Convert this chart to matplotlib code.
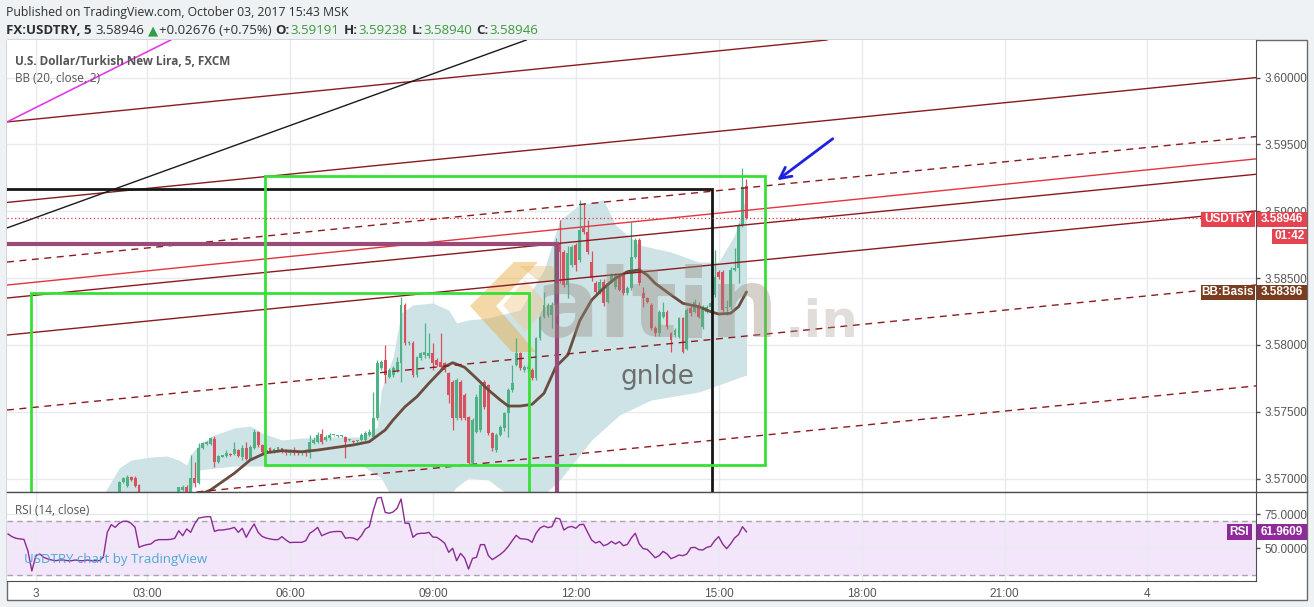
import numpy as np
import matplotlib.pyplot as plt
from matplotlib import transforms
from matplotlib.lines import Line2D
from matplotlib.patches import Rectangle, Polygon

W, H, DPI = 1314, 607, 100

# time axis: index of each 5-minute bar, labelled ticks
tick_bars = [8, 36, 72, 108, 144, 180, 216, 252, 288]
tick_labels = ['3', '03:00', '06:00', '09:00', '12:00', '15:00', '18:00', '21:00', '4']
price_ticks = [3.570, 3.575, 3.580, 3.585, 3.590, 3.595, 3.600]
rsi_ticks = [50, 75]

# FX:USDTRY 5-minute candles, bars 29 .. 187
first_bar = 29
opens = [
    3.56870, 3.56977, 3.56945, 3.57014, 3.57002, 3.56950, 3.56850, 3.56790,
    3.56770, 3.56800, 3.56780, 3.56810, 3.56830, 3.56850, 3.56860, 3.56895,
    3.56915, 3.56940, 3.56890, 3.57002, 3.56965, 3.57227, 3.57257, 3.57257,
    3.57294, 3.57127, 3.57164, 3.57169, 3.57180, 3.57184, 3.57214, 3.57164,
    3.57227, 3.57150, 3.57227, 3.57351, 3.57252, 3.57201, 3.57227, 3.57195,
    3.57210, 3.57227, 3.57214, 3.57189, 3.57214, 3.57201, 3.57189, 3.57214,
    3.57189, 3.57264, 3.57276, 3.57334, 3.57289, 3.57302, 3.57326, 3.57319,
    3.57319, 3.57314, 3.57289, 3.57281, 3.57281, 3.57289, 3.57289, 3.57326,
    3.57314, 3.57451, 3.57825, 3.57887, 3.57762, 3.57775, 3.57813, 3.57863,
    3.58299, 3.58012, 3.58012, 3.57775, 3.57900, 3.57925, 3.57920, 3.57938,
    3.57887, 3.57875, 3.57863, 3.57788, 3.57725, 3.57451, 3.57725, 3.57626,
    3.57460, 3.57115, 3.57351, 3.57364, 3.57725, 3.57700, 3.57339, 3.57214,
    3.57326, 3.57376, 3.57488, 3.57663, 3.57850, 3.57938, 3.57813, 3.57820,
    3.57813, 3.57750, 3.58049, 3.58211, 3.58224, 3.58224, 3.58299, 3.58760,
    3.58697, 3.58449, 3.58600, 3.58748, 3.58636, 3.58873, 3.58847, 3.58623,
    3.58461, 3.58399, 3.58473, 3.58323, 3.58473, 3.58436, 3.58510, 3.58523,
    3.58386, 3.58424, 3.58660, 3.58785, 3.58386, 3.58349, 3.58299, 3.58124,
    3.58087, 3.58212, 3.58249, 3.58087, 3.58075, 3.58062, 3.58199, 3.57972,
    3.58274, 3.58249, 3.58287, 3.58137, 3.58249, 3.58287, 3.58374, 3.58548,
    3.58548, 3.58274, 3.58287, 3.58561, 3.58573, 3.58897, 3.59191]
highs = [
    3.56980, 3.57014, 3.57027, 3.57020, 3.57020, 3.56960, 3.56870, 3.56830,
    3.56810, 3.56840, 3.56820, 3.56850, 3.56870, 3.56880, 3.56890, 3.56940,
    3.56950, 3.56950, 3.57177, 3.57127, 3.57264, 3.57274, 3.57280, 3.57309,
    3.57319, 3.57180, 3.57180, 3.57214, 3.57190, 3.57276, 3.57220, 3.57252,
    3.57276, 3.57250, 3.57369, 3.57360, 3.57260, 3.57220, 3.57240, 3.57230,
    3.57240, 3.57230, 3.57220, 3.57220, 3.57240, 3.57210, 3.57210, 3.57220,
    3.57326, 3.57310, 3.57351, 3.57370, 3.57330, 3.57340, 3.57330, 3.57325,
    3.57325, 3.57320, 3.57300, 3.57290, 3.57290, 3.57340, 3.57360, 3.57370,
    3.57650, 3.57887, 3.57887, 3.57999, 3.57830, 3.57840, 3.57912, 3.58361,
    3.58310, 3.58030, 3.58030, 3.57920, 3.57950, 3.58162, 3.58087, 3.58012,
    3.57900, 3.58087, 3.57870, 3.57800, 3.57740, 3.57750, 3.57740, 3.57640,
    3.57470, 3.57450, 3.57630, 3.57710, 3.57740, 3.57710, 3.57350, 3.57340,
    3.57400, 3.57500, 3.57680, 3.57850, 3.58049, 3.57950, 3.57850, 3.57860,
    3.57830, 3.58060, 3.58220, 3.58398, 3.58310, 3.58320, 3.58800, 3.58935,
    3.58710, 3.58740, 3.58750, 3.58760, 3.59085, 3.59060, 3.58935, 3.58700,
    3.58480, 3.58490, 3.58490, 3.58480, 3.58540, 3.58540, 3.58530, 3.58540,
    3.58440, 3.58922, 3.58800, 3.58800, 3.58436, 3.58360, 3.58310, 3.58140,
    3.58260, 3.58323, 3.58260, 3.58100, 3.58130, 3.58210, 3.58210, 3.58280,
    3.58290, 3.58340, 3.58323, 3.58300, 3.58300, 3.58330, 3.58710, 3.58560,
    3.58560, 3.58336, 3.58580, 3.58723, 3.58910, 3.59322, 3.59238]
lows = [
    3.56850, 3.56970, 3.56940, 3.56980, 3.56940, 3.56800, 3.56760, 3.56740,
    3.56730, 3.56760, 3.56740, 3.56780, 3.56800, 3.56810, 3.56830, 3.56880,
    3.56910, 3.56870, 3.56880, 3.56940, 3.56960, 3.57220, 3.57250, 3.57250,
    3.57085, 3.57120, 3.57160, 3.57160, 3.57170, 3.57180, 3.57160, 3.57139,
    3.57140, 3.57140, 3.57220, 3.57240, 3.57190, 3.57190, 3.57190, 3.57190,
    3.57200, 3.57190, 3.57180, 3.57180, 3.57180, 3.57180, 3.57180, 3.57170,
    3.57152, 3.57260, 3.57270, 3.57260, 3.57280, 3.57290, 3.57320, 3.57315,
    3.57315, 3.57152, 3.57280, 3.57270, 3.57275, 3.57280, 3.57280, 3.57320,
    3.57310, 3.57440, 3.57810, 3.57713, 3.57750, 3.57760, 3.57800, 3.57725,
    3.58000, 3.58000, 3.57760, 3.57760, 3.57890, 3.57900, 3.57900, 3.57813,
    3.57840, 3.57813, 3.57800, 3.57563, 3.57364, 3.57440, 3.57440, 3.57440,
    3.57100, 3.57100, 3.57340, 3.57350, 3.57520, 3.57330, 3.57210, 3.57200,
    3.57320, 3.57360, 3.57314, 3.57650, 3.57840, 3.57810, 3.57800, 3.57800,
    3.57738, 3.57740, 3.58040, 3.58200, 3.58210, 3.58124, 3.58280, 3.58461,
    3.58430, 3.58350, 3.58580, 3.58550, 3.58620, 3.58830, 3.58680, 3.58480,
    3.58380, 3.58380, 3.58290, 3.58310, 3.58460, 3.58420, 3.58400, 3.58370,
    3.58370, 3.58410, 3.58650, 3.58450, 3.58287, 3.58310, 3.58110, 3.58070,
    3.58070, 3.58200, 3.58120, 3.57950, 3.58060, 3.58050, 3.57940, 3.57960,
    3.58220, 3.58240, 3.58200, 3.58120, 3.58240, 3.58270, 3.58360, 3.58490,
    3.58250, 3.58224, 3.58270, 3.58550, 3.58461, 3.58880, 3.58940]
closes = [
    3.56977, 3.57007, 3.57014, 3.56990, 3.56945, 3.56850, 3.56790, 3.56770,
    3.56800, 3.56780, 3.56810, 3.56830, 3.56850, 3.56860, 3.56880, 3.56935,
    3.56940, 3.56890, 3.57002, 3.56965, 3.57227, 3.57264, 3.57276, 3.57302,
    3.57127, 3.57169, 3.57175, 3.57194, 3.57175, 3.57219, 3.57169, 3.57227,
    3.57145, 3.57239, 3.57351, 3.57252, 3.57201, 3.57214, 3.57201, 3.57220,
    3.57234, 3.57201, 3.57189, 3.57214, 3.57189, 3.57189, 3.57201, 3.57189,
    3.57276, 3.57289, 3.57326, 3.57272, 3.57314, 3.57326, 3.57326, 3.57319,
    3.57319, 3.57276, 3.57289, 3.57276, 3.57281, 3.57326, 3.57344, 3.57351,
    3.57451, 3.57863, 3.57875, 3.57775, 3.57813, 3.57825, 3.57875, 3.58299,
    3.58012, 3.58024, 3.57775, 3.57912, 3.57938, 3.57950, 3.57938, 3.57863,
    3.57850, 3.57837, 3.57813, 3.57626, 3.57451, 3.57738, 3.57451, 3.57451,
    3.57115, 3.57439, 3.57613, 3.57700, 3.57538, 3.57339, 3.57227, 3.57326,
    3.57388, 3.57488, 3.57663, 3.57713, 3.57938, 3.57825, 3.57837, 3.57837,
    3.57750, 3.58049, 3.58211, 3.58299, 3.58299, 3.58299, 3.58760, 3.58697,
    3.58449, 3.58685, 3.58735, 3.58598, 3.58860, 3.58847, 3.58697, 3.58499,
    3.58399, 3.58473, 3.58311, 3.58461, 3.58523, 3.58523, 3.58411, 3.58386,
    3.58424, 3.58660, 3.58785, 3.58461, 3.58349, 3.58323, 3.58124, 3.58087,
    3.58249, 3.58249, 3.58137, 3.58037, 3.58112, 3.58199, 3.57950, 3.58261,
    3.58237, 3.58323, 3.58212, 3.58287, 3.58287, 3.58311, 3.58510, 3.58510,
    3.58261, 3.58287, 3.58561, 3.58573, 3.58897, 3.59184, 3.58946]

# Bollinger bands (20, close, 2)
basis_bars = [46, 52, 58, 62, 66, 70, 75, 79, 83, 88, 92, 96, 98, 101, 104, 107,
              111, 113, 116, 119, 122, 125, 127, 130, 133, 136, 139, 142, 145,
              148, 151, 154, 157, 160, 162, 164, 168, 171, 175, 178, 180, 183,
              185, 187]
basis_vals = [3.56840, 3.56915, 3.57040, 3.57139, 3.57194, 3.57209, 3.57201,
              3.57214, 3.57231, 3.57252, 3.57276, 3.57364, 3.57439, 3.57538,
              3.57613, 3.57713, 3.57837, 3.57867, 3.57833, 3.57750, 3.57663,
              3.57588, 3.57543, 3.57543, 3.57556, 3.57638, 3.57837, 3.57925,
              3.58181, 3.58336, 3.58424, 3.58499, 3.58548, 3.58561, 3.58523,
              3.58461, 3.58374, 3.58311, 3.58286, 3.58249, 3.58231, 3.58237,
              3.58286, 3.58396]
upper_bars = [25, 29, 32, 37, 41, 44, 46, 47, 49, 53, 58, 62, 65, 70, 75, 83,
              90, 94, 95, 98, 100, 103, 108, 112, 114, 117, 122, 130, 136, 140,
              145, 151, 154, 160, 168, 175, 180, 184, 187]
upper_vals = [3.56878, 3.57080, 3.57139, 3.57162, 3.57169, 3.57139, 3.57102,
              3.57177, 3.57252, 3.57326, 3.57379, 3.57394, 3.57341, 3.57289,
              3.57304, 3.57311, 3.57311, 3.57386, 3.57663, 3.57910, 3.58239,
              3.58299, 3.58314, 3.58261, 3.58164, 3.58187, 3.58202, 3.58261,
              3.58561, 3.58935, 3.59047, 3.59085, 3.58897, 3.58748, 3.58695,
              3.58620, 3.58620, 3.58822, 3.59122]
lower_bars = [25, 44, 47, 49, 58, 65, 75, 90, 95, 98, 110, 114, 117, 122, 127,
              135, 140, 148, 155, 163, 175, 187]
lower_vals = [3.56500, 3.56600, 3.56900, 3.57065, 3.57094, 3.57094, 3.57094,
              3.57102, 3.57005, 3.56840, 3.56800, 3.56937, 3.57005, 3.56990,
              3.56878, 3.56855, 3.56990, 3.57289, 3.57476, 3.57588, 3.57648,
              3.57775]

# RSI (14, close), bars 1 .. 187
rsi_vals = [
    60.4, 58.4, 57.2, 56.7, 56.4, 48.0, 33.0, 44.3, 45.6, 43.1,
    41.9, 41.1, 40.6, 41.1, 41.1, 40.6, 40.6, 41.1, 40.6, 40.6,
    41.1, 40.6, 40.6, 40.6, 43.1, 61.6, 67.3, 65.3, 68.3, 69.8,
    69.8, 68.3, 65.3, 50.5, 51.7, 52.5, 53.0, 55.4, 56.2, 56.2,
    56.2, 56.4, 57.2, 62.8, 59.1, 64.1, 61.6, 67.8, 72.2, 72.7,
    73.2, 73.2, 62.3, 63.3, 63.3, 63.8, 64.3, 65.3, 61.6, 64.6,
    57.9, 63.3, 67.8, 61.6, 58.6, 57.4, 56.7, 56.2, 56.2, 58.4,
    55.9, 54.0, 54.2, 54.2, 54.2, 55.4, 60.9, 62.8, 65.3, 59.1,
    60.4, 61.6, 62.1, 62.3, 62.1, 57.2, 57.7, 57.4, 55.9, 59.1,
    64.1, 65.8, 77.7, 87.0, 87.5, 76.4, 75.7, 76.7, 79.4, 86.3,
    68.3, 68.3, 57.9, 60.4, 60.9, 60.9, 61.6, 58.1, 57.9, 55.9,
    53.5, 46.8, 49.8, 40.6, 46.0, 42.6, 34.4, 42.3, 43.1, 52.5,
    52.5, 44.3, 41.4, 43.3, 45.3, 47.8, 51.2, 55.4, 59.4, 56.9,
    56.7, 56.2, 54.2, 60.9, 64.8, 66.3, 65.1, 65.8, 72.2, 71.5,
    63.3, 65.3, 66.0, 64.6, 67.3, 67.5, 61.6, 55.9, 53.7, 54.9,
    51.7, 52.7, 54.9, 53.0, 54.7, 51.7, 52.7, 57.4, 60.9, 53.0,
    49.5, 49.0, 46.0, 42.8, 44.3, 47.5, 45.6, 42.1, 43.3, 44.8,
    44.3, 45.6, 50.2, 50.5, 48.8, 48.5, 50.5, 51.2, 55.4, 58.4,
    53.0, 49.5, 53.0, 57.4, 59.9, 65.8, 61.9609]

# drawings on the chart (anchor bar, price)
chan_bars = (0.74, 315.1)
chan_left = [3.59668, 3.59066, 3.58620, 3.58448, 3.58351, 3.58074, 3.57513, 3.56758]
chan_right = [3.60601, 3.59999, 3.59558, 3.59391, 3.59276, 3.59002, 3.58448, 3.57693]
black_trend = [(0.74, 3.58875), (129.5, 3.60259)]
pink_trend = [(0.74, 3.59668), (40.5, 3.60259)]
black_box = (-20, 3.5600, 178.3, 3.59167)     # left bar, low, right bar, high
purple_box = (-20, 3.5600, 139.3, 3.58755)
green_box_a = (6.8, 3.5600, 132.2, 3.58389)
green_box_b = (65.7, 3.57102, 191.7, 3.59264)
arrow_tail = (209.3, 3.59555)
arrow_head = (194.2, 3.59219)
last_close = 3.58946
basis_last = 3.58396
rsi_last = 61.9609

# ---------------------------------------------------------------
UP, DOWN = '#4fb287', '#d8515e'
DARKRED, RED = '#8b1a1f', '#e3343f'
AXC = '#4e4e4e'
TXT = '#555555'
HEAD_FONT = ['Open Sans', 'DejaVu Sans']
TICK_FONT = ['Liberation Sans', 'DejaVu Sans']

X0, X1 = 0.74, 315.35
Y0, Y1 = 3.56900, 3.60281
R0, R1 = 25.56, 91.48

fig = plt.figure(figsize=(W / DPI, H / DPI), dpi=DPI)
fig.patch.set_facecolor('#eff2f5')
px = transforms.Affine2D().scale(1 / W, -1 / H).translate(0, 1) + fig.transFigure


def fx(x):
    return x / W


def fy(y):
    return 1 - y / H


fig.add_artist(Rectangle((fx(7), fy(600)), fx(1307) - fx(7), fy(40) - fy(600),
                         transform=fig.transFigure, facecolor='white',
                         edgecolor='#6a6a6a', lw=1, zorder=-1))

ax = fig.add_axes([fx(7), fy(492), fx(1256) - fx(7), fy(40) - fy(492)])
rax = fig.add_axes([fx(7), fy(581), fx(1256) - fx(7), fy(492) - fy(581)])

for a in (ax, rax):
    a.set_xlim(X0, X1)
    a.set_facecolor('white')
    a.spines['left'].set_visible(False)
    a.spines['top'].set_visible(False)
    a.spines['right'].set_color(AXC)
    a.spines['bottom'].set_color(AXC)
    a.set_xticks(tick_bars)
    a.grid(True, color='#e7eaee', lw=1, zorder=0)
    a.set_axisbelow(True)
    a.yaxis.tick_right()
    a.tick_params(axis='y', length=3, width=1, color=AXC, pad=3,
                  labelsize=8.5, labelcolor=TXT)

ax.set_ylim(Y0, Y1)
ax.set_yticks(price_ticks)
ax.set_yticklabels([f'{p:.5f}' for p in price_ticks], family=TICK_FONT)
ax.tick_params(axis='x', length=0, labelbottom=False)

rax.set_ylim(R0, R1)
rax.set_yticks(rsi_ticks)
rax.set_yticklabels([f'{v:.4f}' for v in rsi_ticks], family=TICK_FONT)
rax.set_xticklabels(tick_labels, family=TICK_FONT)
rax.tick_params(axis='x', length=0, pad=5, labelsize=8.5, labelcolor=TXT)

# Bollinger fill and basis
fill_x = np.arange(25, 188)
ax.fill_between(fill_x, np.interp(fill_x, lower_bars, lower_vals),
                np.interp(fill_x, upper_bars, upper_vals),
                color='#cde3e6', lw=0, zorder=1)
ax.plot(basis_bars, basis_vals, color='#6b4d3f', lw=2, zorder=4,
        solid_capstyle='round')

# watermark logo (decoration)
ax.add_patch(Polygon([(514, 262), (538, 262), (496, 306), (536, 352), (512, 352), (470, 306)],
                     closed=True, transform=px, facecolor='#e9a93c', alpha=0.45,
                     lw=0, zorder=2))
ax.add_patch(Polygon([(525, 280), (548, 305), (525, 332), (503, 305)],
                     closed=True, transform=px, facecolor='#f0c889', alpha=0.45,
                     lw=0, zorder=2))
ax.add_patch(Polygon([(520, 266), (552, 266), (562, 282), (540, 282)],
                     closed=True, transform=px, facecolor='#e8b86a', alpha=0.4,
                     lw=0, zorder=2))

# candles
bars = np.arange(first_bar, first_bar + len(opens))
o, h, l, c = (np.array(v) for v in (opens, highs, lows, closes))
col = np.where(c >= o, UP, DOWN)
ax.vlines(bars, l, h, colors=col, lw=0.9, zorder=3)
ax.bar(bars, np.maximum(np.abs(c - o), 0.00008), bottom=np.minimum(o, c),
       width=0.72, color=col, lw=0, zorder=3)

ax.text(535, 337, 'altin', transform=px, fontsize=69, fontweight='bold',
        family='DejaVu Sans', color='#948878', alpha=0.38, zorder=6)
ax.text(785, 337, '.in', transform=px, fontsize=37, fontweight='bold',
        family='DejaVu Sans', color='#a39a8f', alpha=0.33, zorder=6)
ax.text(657, 384, 'gnlde', transform=px, fontsize=19, ha='center',
        family='DejaVu Sans', color='#6e6e6e', zorder=6)

# channel and trend lines
chan_style = [(DARKRED, '-'), (DARKRED, '-'), (DARKRED, (0, (5, 4))), (RED, '-'),
              (DARKRED, '-'), (DARKRED, '-'), (DARKRED, (0, (5, 4))), (DARKRED, (0, (5, 4)))]
for p0, p1, (colr, ls) in zip(chan_left, chan_right, chan_style):
    ax.axline((chan_bars[0], p0), (chan_bars[1], p1), color=colr, ls=ls, lw=1, zorder=5)
ax.axline(black_trend[0], black_trend[1], color='#1a1a1a', lw=1, zorder=5)
ax.axline(pink_trend[0], pink_trend[1], color='#e03ce8', lw=1.2, zorder=5)

for box, colr, lw in [(black_box, '#161616', 2), (purple_box, '#9b4b7a', 3),
                      (green_box_a, '#37e037', 2), (green_box_b, '#37e037', 2)]:
    b0, lo, b1, hi = box
    ax.add_patch(Rectangle((b0, lo), b1 - b0, hi - lo, fill=False,
                           edgecolor=colr, lw=lw, zorder=5))

ax.annotate('', xy=arrow_head, xytext=arrow_tail,
            arrowprops=dict(arrowstyle='->', color='#1c22e0', lw=2,
                            mutation_scale=20), zorder=7)

ax.axhline(last_close, color=RED, lw=0.9, ls=(0, (1, 2)), zorder=5)

# RSI pane
rax.axhspan(30, 70, color='#f3e6fb', zorder=0.5)
for lvl in (70, 30):
    rax.axhline(lvl, color='#a9a2b0', lw=1, ls=(0, (4, 3)), zorder=1)
rax.plot(np.arange(1, len(rsi_vals) + 1), rsi_vals, color='#8a2b91', lw=1, zorder=3)

# pane separator across the price scale
fig.add_artist(Line2D([fx(7), fx(1307)], [fy(492), fy(492)], transform=fig.transFigure,
                      color=AXC, lw=1))


# price-scale tags
def tag(axis, x0, x1, yval, text, colr, dy=0.0, half=7.5):
    blend = transforms.blended_transform_factory(fig.transFigure, axis.transData)
    off = transforms.offset_copy(blend, fig=fig, y=dy, units='dots')
    base = off.transform((0, yval))[1]
    yb = axis.transData.inverted().transform((0, base - half))[1]
    yt = axis.transData.inverted().transform((0, base + half))[1]
    axis.add_patch(Rectangle((fx(x0), yb), fx(x1) - fx(x0), yt - yb, transform=blend,
                             facecolor=colr, edgecolor='none', clip_on=False, zorder=10))
    axis.text((fx(x0) + fx(x1)) / 2, (yb + yt) / 2, text, transform=blend,
              ha='center', va='center', color='white', fontsize=8.5,
              fontweight='bold', family=TICK_FONT, clip_on=False, zorder=11)


tag(ax, 1201, 1255, last_close, 'USDTRY', '#e5434f', dy=-1)
tag(ax, 1256.5, 1307, last_close, f'{last_close:.5f}', '#e5434f', dy=-1)
tag(ax, 1272, 1307, last_close, '01:42', '#e5434f', dy=-18)
tag(ax, 1201, 1255, basis_last, 'BB:Basis', '#7b3d1f')
tag(ax, 1256.5, 1307, basis_last, f'{basis_last:.5f}', '#7b3d1f')
tag(rax, 1227, 1252, rsi_last, 'RSI', '#8e2a99', half=8)
tag(rax, 1256.5, 1307, rsi_last, f'{rsi_last:.4f}', '#8e2a99', half=8)

# legends inside panes
fig.text(fx(15), fy(65), 'U.S. Dollar/Turkish New Lira, 5, FXCM', fontsize=8.5,
         fontweight='bold', color=TXT, family=HEAD_FONT)
fig.text(fx(15), fy(82), 'BB (20, close, 2)', fontsize=8.5, color=TXT, family=HEAD_FONT)
fig.text(fx(15), fy(514), 'RSI (14, close)', fontsize=8.5, color=TXT, family=HEAD_FONT)
fig.text(fx(24), fy(563), 'USDTRY chart by TradingView', fontsize=9.5,
         color='#4aa9d6', family=HEAD_FONT)

# header lines
fig.text(fx(6), fy(16), 'Published on TradingView.com, October 03, 2017 15:43 MSK',
         fontsize=8.8, color='#2f2f2f', family=HEAD_FONT)

renderer = fig.canvas.get_renderer()
DARK, GREEN = '#2f2f2f', '#3c9a3c'
parts = [('FX:USDTRY, 5', DARK, 'bold', 4), ('3.58946', DARK, 'normal', 3),
         ('\u25b2', '#2f9e44', 'normal', 1), ('+0.02676 (+0.75%)', DARK, 'normal', 4),
         ('O:', DARK, 'bold', 1), ('3.59191', GREEN, 'normal', 4),
         ('H:', DARK, 'bold', 1), ('3.59238', GREEN, 'normal', 4),
         ('L:', DARK, 'bold', 1), ('3.58940', GREEN, 'normal', 4),
         ('C:', DARK, 'bold', 1), ('3.58946', GREEN, 'normal', 0)]
xpos = 6
for s, colr, wt, gap in parts:
    t = fig.text(fx(xpos), fy(34), s, fontsize=9.5, color=colr, fontweight=wt,
                 family=HEAD_FONT)
    xpos += t.get_window_extent(renderer).width + gap

fig.savefig('out.png', dpi=DPI, facecolor=fig.get_facecolor())
